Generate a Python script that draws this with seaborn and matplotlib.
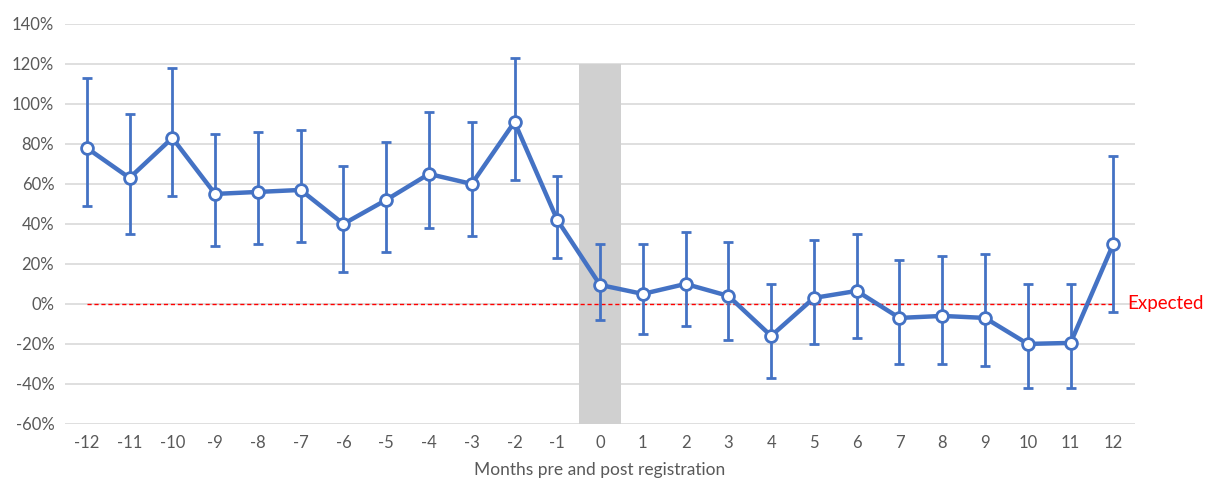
import pandas as pd
import numpy as np
import seaborn as sns
import matplotlib.pyplot as plt
from matplotlib.ticker import FuncFormatter

months = list(range(-12, 13))
change = [78, 63, 83, 55, 56, 57, 40, 52, 65, 60, 91, 42,
          9.5, 5, 10, 4, -16, 3, 6.5, -7, -6, -7, -20, -19.5, 30]
upper = [113, 95, 118, 85, 86, 87, 69, 81, 96, 91, 123, 64,
         30, 30, 36, 31, 10, 32, 35, 22, 24, 25, 10, 10, 74]
lower = [49, 35, 54, 29, 30, 31, 16, 26, 38, 34, 62, 23,
         -8, -15, -11, -18, -37, -20, -17, -30, -30, -31, -42, -42, -4]
expected = [0] * len(months)

df = pd.DataFrame({"Month": months, "Change": change})

sns.set_style("white")
plt.rcParams['font.family'] = ['Lato', 'DejaVu Sans']
plt.rcParams['axes.unicode_minus'] = False

blue = "#4472C4"
grey_txt = "#595959"

fig, ax = plt.subplots(figsize=(12.11, 4.79), dpi=100)
fig.subplots_adjust(left=0.054, right=0.937, top=0.95, bottom=0.115)

# shaded registration month
ax.fill_between([-0.5, 0.5], -60, 120, color="#D0D0D0", zorder=1, linewidth=0)

for v in range(-60, 141, 20):
    ax.axhline(v, color="#D9D9D9", linewidth=1.2, zorder=0)

ax.plot(months, expected, color="#FF0000", linestyle=(0, (3, 2)), linewidth=1, zorder=2)
ax.text(12.32, 0, "Expected", color="#FF0000", fontsize=13.5, va="center", ha="left")

yerr = [np.array(change) - np.array(lower), np.array(upper) - np.array(change)]
ax.errorbar(months, change, yerr=yerr, fmt="none", ecolor=blue, elinewidth=2,
            capsize=3.5, capthick=2, zorder=3)

sns.lineplot(data=df, x="Month", y="Change", ax=ax, color=blue, linewidth=3.2,
             marker="o", markersize=8.5, markerfacecolor="white",
             markeredgecolor=blue, markeredgewidth=2, zorder=4)

ax.set_xlim(-12.5, 12.5)
ax.set_ylim(-60, 140)
ax.set_xticks(months)
ax.set_yticks(range(-60, 141, 20))
ax.yaxis.set_major_formatter(FuncFormatter(lambda v, p: f"{int(v)}%"))
ax.tick_params(axis="both", labelsize=12, colors=grey_txt, length=0, pad=8)
ax.set_xlabel("Months pre and post registration", fontsize=12.5, color=grey_txt, labelpad=8)
ax.set_ylabel("")
for s in ax.spines.values():
    s.set_visible(False)

fig.savefig("out.png", dpi=100)
